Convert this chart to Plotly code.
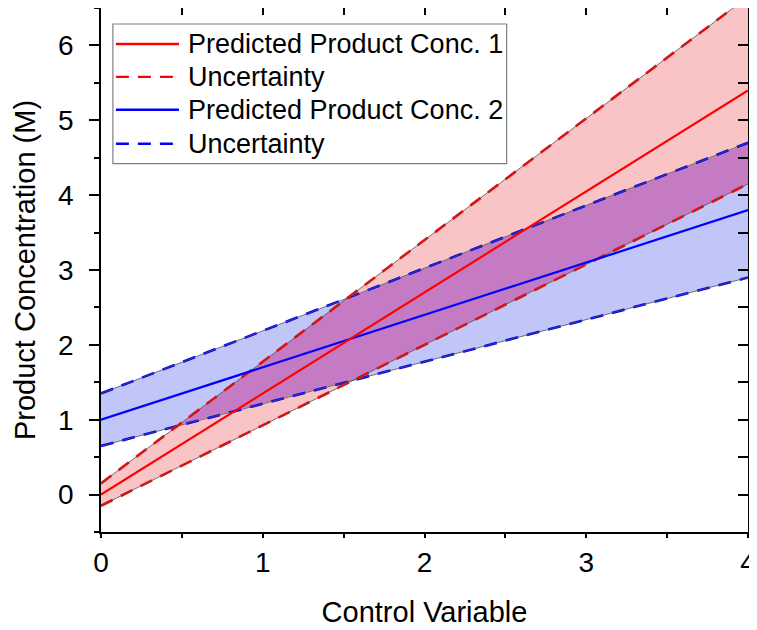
import plotly.graph_objects as go

# ---- data ----
x_vals = [0, 1, 2, 3, 4]
red_pred = [0.0, 1.35, 2.70, 4.05, 5.40]
red_upper = [0.15, 1.775, 3.40, 5.025, 6.65]
red_lower = [-0.15, 0.925, 2.00, 3.075, 4.15]
blue_pred = [1.00, 1.70, 2.40, 3.10, 3.80]
blue_upper = [1.35, 2.19, 3.03, 3.86, 4.70]
blue_lower = [0.65, 1.21, 1.78, 2.34, 2.90]

legend_labels = ["Predicted Product Conc. 1", "Uncertainty",
                 "Predicted Product Conc. 2", "Uncertainty"]
x_title = "Control Variable"
y_title = "Product Concentration (M)"

RED = "#FF0000"
BLUE = "#0000FF"
PINK = "#F9C4C6"
LBLUE = "#C0C6F8"
PURPLE = "#C47BC3"
FONT = "Liberation Sans, Arial, sans-serif"


def band_polygon(xs, lo, hi):
    px = list(xs) + list(xs)[::-1]
    py = list(hi) + list(lo)[::-1]
    return list(zip(px, py))


def clip(subject, clipper):
    # Sutherland-Hodgman polygon clipping (clipper convex)
    def area(poly):
        s = 0
        for i in range(len(poly)):
            x1, y1 = poly[i]
            x2, y2 = poly[(i + 1) % len(poly)]
            s += x1 * y2 - x2 * y1
        return s
    sign = 1 if area(clipper) > 0 else -1

    def inside(p, a, b):
        return sign * ((b[0] - a[0]) * (p[1] - a[1]) - (b[1] - a[1]) * (p[0] - a[0])) >= 0

    def inter(p, q, a, b):
        x1, y1 = p; x2, y2 = q; x3, y3 = a; x4, y4 = b
        den = (x1 - x2) * (y3 - y4) - (y1 - y2) * (x3 - x4)
        t = ((x1 - x3) * (y3 - y4) - (y1 - y3) * (x3 - x4)) / den
        return (x1 + t * (x2 - x1), y1 + t * (y2 - y1))

    out = subject
    n = len(clipper)
    for i in range(n):
        a, b = clipper[i], clipper[(i + 1) % n]
        inp = out
        out = []
        if not inp:
            break
        s = inp[-1]
        for e in inp:
            if inside(e, a, b):
                if not inside(s, a, b):
                    out.append(inter(s, e, a, b))
                out.append(e)
            elif inside(s, a, b):
                out.append(inter(s, e, a, b))
            s = e
    return out


red_poly = band_polygon(x_vals, red_lower, red_upper)
blue_poly = band_polygon(x_vals, blue_lower, blue_upper)
overlap = clip(red_poly, blue_poly)

fig = go.Figure()


def add_fill(poly, color):
    fig.add_trace(go.Scatter(x=[p[0] for p in poly] + [poly[0][0]],
                             y=[p[1] for p in poly] + [poly[0][1]],
                             mode="lines", fill="toself", fillcolor=color,
                             line=dict(width=0), hoverinfo="skip", showlegend=False))


add_fill(blue_poly, LBLUE)
add_fill(red_poly, PINK)
add_fill(overlap, PURPLE)

DASH = "13px,9px"
for ys, col in [(blue_upper, BLUE), (blue_lower, BLUE), (red_upper, RED), (red_lower, RED)]:
    fig.add_trace(go.Scatter(x=x_vals, y=ys, mode="lines",
                             line=dict(color=col, width=2.6, dash=DASH), showlegend=False))
    fig.add_trace(go.Scatter(x=x_vals, y=ys, mode="lines",
                             line=dict(color="#505050", width=0.8), showlegend=False))

fig.add_trace(go.Scatter(x=x_vals, y=blue_pred, mode="lines",
                         line=dict(color=BLUE, width=2.2), showlegend=False))
fig.add_trace(go.Scatter(x=x_vals, y=red_pred, mode="lines",
                         line=dict(color=RED, width=2.2), showlegend=False))

# dummy overlay trace for top/right axes
fig.add_trace(go.Scatter(x=[None], y=[None], xaxis="x2", yaxis="y2", showlegend=False))

# ---- custom legend (paper coordinates) ----
shapes = [dict(type="rect", xref="paper", yref="paper", x0=0.0184, x1=0.627,
               y0=0.703, y1=0.9695, line=dict(color="#7F7F7F", width=1.2),
               fillcolor="white", layer="above")]
annotations = []
leg_styles = [(RED, "solid"), (RED, DASH), (BLUE, "solid"), (BLUE, DASH)]
leg_y = [0.9314, 0.8686, 0.8057, 0.741]
for lab, (col, dsh), yy in zip(legend_labels, leg_styles, leg_y):
    shapes.append(dict(type="line", xref="paper", yref="paper", x0=0.023, x1=0.1205,
                       y0=yy, y1=yy, line=dict(color=col, width=2.4, dash=dsh), layer="above"))
    annotations.append(dict(xref="paper", yref="paper", x=0.1315, y=yy, text=lab,
                            showarrow=False, xanchor="left", yanchor="middle",
                            font=dict(family=FONT, size=27, color="black")))

axis_common = dict(showgrid=False, zeroline=False, showline=True, linecolor="black",
                   linewidth=1.6, tickcolor="black", tickwidth=1.6, automargin=False)

# page body has an 8px default margin; size the figure to fit the 757x630 window
fig.update_layout(
    width=749, height=622,
    margin=dict(l=93, r=9, t=0, b=98),
    plot_bgcolor="white", paper_bgcolor="white",
    showlegend=False,
    font=dict(family=FONT, size=27, color="black"),
    shapes=shapes, annotations=annotations,
    xaxis=dict(range=[0, 4], dtick=1, ticks="outside", ticklen=4,
               minor=dict(dtick=0.5, ticks="outside", ticklen=4, tickcolor="black", tickwidth=1.6),
               title=dict(text=x_title, font=dict(size=29), standoff=24),
               tickfont=dict(size=28), ticklabeloverflow="allow", ticklabelstandoff=1,
               **axis_common),
    yaxis=dict(range=[-0.5, 6.5], dtick=1, ticks="outside", ticklen=10,
               minor=dict(dtick=0.5, ticks="outside", ticklen=5, tickcolor="black", tickwidth=1.6),
               title=dict(text=y_title, font=dict(size=29), standoff=14),
               tickfont=dict(size=28), ticklabeloverflow="allow", ticklabelstandoff=10,
               **axis_common),
    xaxis2=dict(range=[0, 4], overlaying="x", side="top", dtick=0.5, ticks="inside",
                ticklen=7, showticklabels=False, **axis_common),
    yaxis2=dict(range=[-0.5, 6.5], overlaying="y", side="right", dtick=0.5, ticks="inside",
                ticklen=10, showticklabels=False, **axis_common),
)

fig.write_html("out.html")
